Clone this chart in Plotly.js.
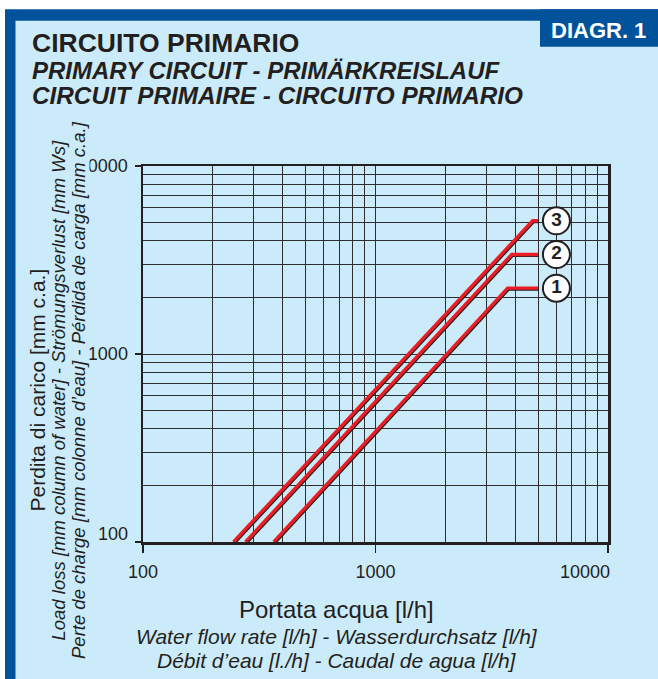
<!DOCTYPE html>
<html><head><meta charset="utf-8">
<script src="https://cdn.plot.ly/plotly-3.0.1.min.js"></script>
<style>html,body{margin:0;padding:0;background:#fff;}#chart{width:658px;height:679px;}</style>
</head><body><div id="chart"></div>
<script>
// ---- data ----
const circuitLabels = ['1', '2', '3'];
const flow1 = [365, 3700, 5000];
const loss1 = [100, 2240, 2240];
const flow2 = [276, 3850, 5000];
const loss2 = [100, 3380, 3380];
const flow3 = [245, 4740, 5000];
const loss3 = [100, 5110, 5110];
const labelFlow = [6000, 6000, 6000];
const xTickVals = [100, 1000, 10000];
const xTickText = ['100', '1000', '10000'];
const yTickVals = [100, 1000, 10000];
const yTickText = ['100', '1000', '10000'];
const xMinorVals = [200, 300, 400, 500, 600, 700, 800, 900, 2000, 3000, 4000, 5000, 6000, 7000, 8000, 9000];
const yMinorVals = [200, 300, 400, 500, 600, 700, 800, 900, 2000, 3000, 4000, 5000, 6000, 7000, 8000, 9000];

// ---- layout helpers ----
const W = 658, H = 679, L = 143, R = 50, T = 166, B = 137;
const PW = W - L - R, PH = H - T - B;
const px = v => (v - L) / PW;
const py = v => (H - B - v) / PH;
const FONT = 'Liberation Sans, Arial, sans-serif';
const INK = '#231F20';
const BG = '#CCEBFA';
const BLUE = '#00539B';
const RED = '#EC1C24';
const GRID = '#2e2e2e';
const sx = 1.0 / (PW / 2);   // shadow offset in log units
const sy = 1.0 / (PH / 2);

const red = (x, y) => ({x, y, type: 'scatter', mode: 'lines', xaxis: 'x3', yaxis: 'y3',
  line: {color: RED, width: 3.4}, hoverinfo: 'skip', showlegend: false});
const shadow = (x, y) => ({x, y, type: 'scatter', mode: 'lines', xaxis: 'x2', yaxis: 'y2',
  line: {color: INK, width: 3}, hoverinfo: 'skip', showlegend: false});

const traces = [
  shadow(flow1, loss1), shadow(flow2, loss2), shadow(flow3, loss3),
  red(flow1, loss1), red(flow2, loss2), red(flow3, loss3),
  {x: labelFlow, y: [loss1[2], loss2[2], loss3[2]], type: 'scatter', mode: 'markers+text',
   xaxis: 'x3', yaxis: 'y3', text: circuitLabels.map(t => '<b>' + t + '</b>'),
   textposition: 'middle center', textfont: {family: FONT, size: 19, color: INK},
   marker: {size: 27, color: '#ffffff', line: {width: 2, color: INK}},
   hoverinfo: 'skip', showlegend: false, cliponaxis: false}
];

const axisBase = {
  type: 'log', range: [2, 4], ticks: 'outside', tickwidth: 1.5, tickcolor: INK,
  showline: true, mirror: true, linecolor: INK, linewidth: 2.5,
  showgrid: true, gridcolor: GRID, gridwidth: 1, zeroline: false,
  tickfont: {family: FONT, size: 18, color: INK}, fixedrange: true
};
const hidden = (o) => Object.assign({type: 'log', visible: false, showgrid: false, fixedrange: true}, o);

const ann = [];
const txt = (text, x, y, size, opts) => ann.push(Object.assign({
  text, xref: 'paper', yref: 'paper', x: px(x), y: py(y), showarrow: false,
  xanchor: 'left', yanchor: 'middle', font: {family: FONT, size, color: INK}
}, opts || {}));

// title block
txt('<b>CIRCUITO PRIMARIO</b>', 30, 43.5, 26.5);
txt('<b><i>PRIMARY CIRCUIT - PRIMÄRKREISLAUF</i></b>', 30, 70.8, 24);
txt('<b><i>CIRCUIT PRIMAIRE - CIRCUITO PRIMARIO</i></b>', 30, 95.8, 24.3);
txt('<b>DIAGR. 1</b>', 598.5, 30.8, 22, {xanchor: 'center', font: {family: FONT, size: 22, color: '#ffffff'}});

// x axis titles
txt('Portata acqua [l/h]', 336.7, 609, 24, {xanchor: 'center'});
txt('<i>Water flow rate [l/h] - Wasserdurchsatz [l/h]</i>', 336.7, 636.5, 21, {xanchor: 'center'});
txt('<i>Débit d’eau [l./h] - Caudal de agua [l/h]</i>', 336.7, 660.6, 21, {xanchor: 'center'});

// y axis titles (rotated); third line drawn first, its background masks the label edge
txt('<i>Perte de charge [mm colonne d’eau] - Pérdida de carga [mm c.a.]</i>', 78, 390, 18.5,
    {xanchor: 'center', textangle: -90, bgcolor: BG, borderpad: 0});
txt('<i>Load loss [mm column of water] - Strömungsverlust [mm Ws]</i>', 57.5, 391, 18.5,
    {xanchor: 'center', textangle: -90});
txt('Perdita di carico [mm c.a.]', 36.5, 390, 21, {xanchor: 'center', textangle: -90});

// tick labels placed off the regular position
ann.push({text: yTickText[0], xref: 'paper', yref: 'y', x: px(130), y: Math.log10(yTickVals[0]),
  xanchor: 'right', yanchor: 'middle', yshift: 8, showarrow: false, font: {family: FONT, size: 18, color: INK}});
ann.push({text: xTickText[2], xref: 'x', yref: 'paper', x: Math.log10(xTickVals[2]), y: py(571.5),
  xanchor: 'right', yanchor: 'middle', xshift: 4, showarrow: false, font: {family: FONT, size: 18, color: INK}});

const layout = {
  width: W, height: H, margin: {l: L, r: R, t: T, b: B, pad: 0},
  paper_bgcolor: '#ffffff', plot_bgcolor: BG, showlegend: false,
  font: {family: FONT, color: INK},
  xaxis: Object.assign({}, axisBase, {tickvals: xTickVals, ticktext: [xTickText[0], xTickText[1], ''], ticklen: 8,
    ticklabelstandoff: 4,
    minor: {tickvals: xMinorVals, showgrid: true, gridcolor: GRID, gridwidth: 1, ticks: ''}}),
  yaxis: Object.assign({}, axisBase, {tickvals: yTickVals, ticktext: ['', yTickText[1], yTickText[2]], ticklen: 6,
    ticklabelstandoff: 3,
    minor: {tickvals: yMinorVals, showgrid: true, gridcolor: GRID, gridwidth: 1, ticks: ''}}),
  xaxis2: hidden({overlaying: 'x', anchor: 'y2', range: [2 - sx, 4 - sx]}),
  yaxis2: hidden({overlaying: 'y', anchor: 'x2', range: [2 + sy, 4 + sy]}),
  xaxis3: hidden({overlaying: 'x', anchor: 'y3', range: [2, 4]}),
  yaxis3: hidden({overlaying: 'y', anchor: 'x3', range: [2, 4]}),
  shapes: [
    {type: 'rect', xref: 'paper', yref: 'paper', x0: px(5), x1: px(700), y0: py(9.3), y1: py(720),
     fillcolor: BLUE, line: {width: 0}, layer: 'below'},
    {type: 'rect', xref: 'paper', yref: 'paper', x0: px(15.5), x1: px(700), y0: py(20.7), y1: py(720),
     fillcolor: BG, line: {width: 0}, layer: 'below'},
    {type: 'rect', xref: 'paper', yref: 'paper', x0: px(540), x1: px(700), y0: py(9.3), y1: py(46.7),
     fillcolor: BLUE, line: {width: 0}, layer: 'below'}
  ],
  annotations: ann
};

Plotly.newPlot('chart', traces, layout, {staticPlot: true, displayModeBar: false});
</script>
</body></html>
